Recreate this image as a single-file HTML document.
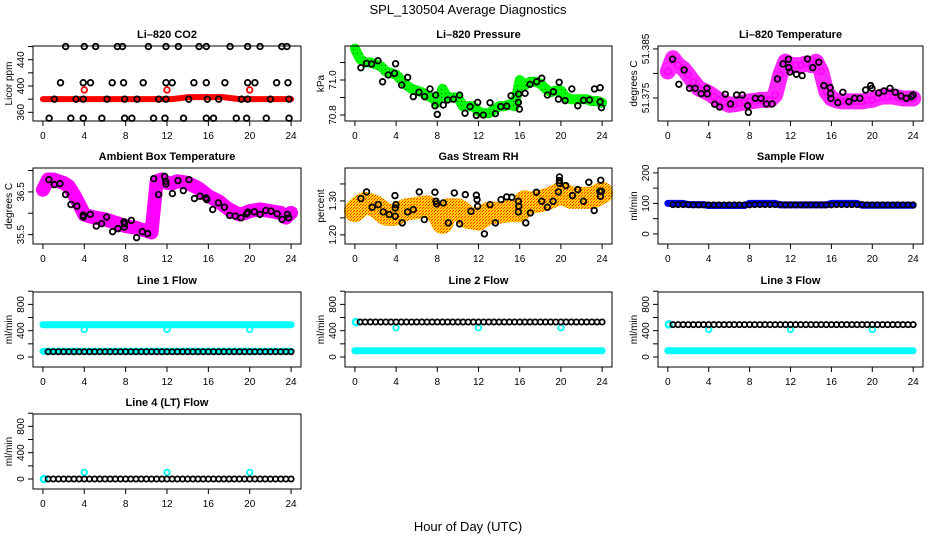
<!DOCTYPE html>
<html><head><meta charset="utf-8">
<style>
html,body{margin:0;padding:0;background:#fff;}
svg{display:block;font-family:"Liberation Sans",sans-serif;}
</style></head>
<body>
<svg id="chart" width="936" height="540" viewBox="0 0 936 540" xmlns="http://www.w3.org/2000/svg">
<defs>
<pattern id="chk" width="3" height="3" patternUnits="userSpaceOnUse"><rect width="3" height="3" fill="#ffd200"/><rect width="1" height="1" fill="#ff3000"/><rect x="2" y="1" width="1" height="1" fill="#ff3000"/><rect x="1" y="2" width="1" height="1" fill="#ffa000"/></pattern>
<pattern id="grn" width="4" height="4" patternUnits="userSpaceOnUse"><rect width="4" height="4" fill="#00ff00"/><rect x="1" y="1" width="1" height="1" fill="#006000"/></pattern>
</defs>
<text x="468" y="14" text-anchor="middle" font-size="13">SPL_130504  Average Diagnostics</text>
<text x="468" y="531" text-anchor="middle" font-size="13">Hour of Day (UTC)</text>
</svg>
<script>
// ---- data ----
const xTicks = [0,4,8,12,16,20,24];
const halfHours = []; for (let i=0;i<=48;i++) halfHours.push(i*0.5);
const blackHours = []; for (let i=1;i<=48;i++) blackHours.push(i*0.5);

const co2BlackHours = [2.2,4.0,5.1,7.2,7.7,10.2,11.9,13.1,15.1,15.8,18.1,19.8,21.0,23.1,23.6, 1.7,3.9,4.6,6.7,7.8,9.7,11.9,12.5,14.6,15.8,17.6,19.8,20.5,22.6,23.7, 1.1,3.2,3.9,6.2,7.9,9.1,11.2,11.9,14.1,15.9,17.0,19.2,19.8,22.0,23.8, 0.6,2.7,3.9,5.7,7.9,8.6,10.7,11.8,13.6,15.8,16.5,18.7,19.7,21.6,23.8];
const co2BlackValues = [460,460,460,460,460,460,460,460,460,460,460,460,460,460,460, 405,405,405,405,405,405,405,405,405,405,405,405,405,405,405, 380,380,380,380,380,380,380,380,380,380,380,380,380,380,380, 351,351,351,351,351,351,351,351,351,351,351,351,351,351,351];
const co2Red = [380,380,380,380,380,380,380,380,380,380,380,380,380,380,380,380,380,380,380,380,380,380,380,380,380,380,381,382,383,383,383,383,383,383,383,383,382,381,380,380,380,380,380,380,380,380,380,380,380];
const co2RedOutHours = [4,12,20];
const co2RedOutValues = [394,394,394];

const presGreen = [71.18,71.12,71.10,71.10,71.09,71.08,71.05,71.04,71.03,71.00,70.97,70.95,70.94,70.93,70.91,70.90,70.87,70.95,70.90,70.90,70.90,70.85,70.85,70.85,70.82,70.81,70.81,70.83,70.85,70.85,70.86,70.85,71.00,70.97,70.99,70.99,70.98,70.95,70.93,70.94,70.94,70.90,70.89,70.89,70.89,70.89,70.88,70.88,70.87];
const presBlackHours = [0.58,1.13,1.62,2.24,2.69,3.24,3.85,3.95,4.54,5.12,5.67,6.22,6.77,7.29,7.77,7.84,8.0,8.58,9.0,9.56,10.17,10.69,11.18,11.79,11.92,12.47,13.12,13.64,14.16,14.74,15.16,15.87,15.9,15.97,16.52,17.0,17.65,18.14,18.69,19.27,19.83,19.76,20.41,21.06,21.64,22.19,22.77,23.26,23.81,23.81,23.94];
const presBlackValues = [71.070,71.095,71.091,71.110,70.990,71.029,71.038,71.093,70.971,71.015,70.905,70.930,70.905,70.949,70.853,70.914,70.804,70.857,70.886,70.891,70.914,70.810,70.848,70.798,70.872,70.800,70.870,70.808,70.848,70.851,70.910,70.872,70.920,70.834,70.924,70.975,70.990,71.010,70.914,70.933,70.987,70.891,70.882,70.949,70.853,70.884,70.886,70.949,70.956,70.876,70.842];

const tempMagenta = [51.3804,51.3831,51.3817,51.3810,51.3797,51.3783,51.3770,51.3765,51.3760,51.3753,51.3746,51.3741,51.3736,51.3737,51.3739,51.3741,51.3743,51.3744,51.3746,51.3746,51.3746,51.3756,51.3797,51.3824,51.3817,51.3817,51.3817,51.3820,51.3817,51.3824,51.3804,51.3763,51.3749,51.3745,51.3743,51.3743,51.3743,51.3743,51.3743,51.3745,51.3746,51.3750,51.3753,51.3753,51.3753,51.3751,51.3749,51.3749,51.3749];
const tempBlackHours = [0.46,1.60,1.08,2.12,2.68,3.27,3.82,3.86,4.58,5.07,5.62,6.14,6.73,7.29,7.81,7.88,8.56,9.12,9.64,10.20,10.72,11.27,11.80,11.83,11.96,12.58,13.14,13.66,14.18,14.77,15.26,15.88,15.92,15.95,16.63,17.12,17.71,18.27,18.79,19.35,19.84,19.97,20.62,21.14,21.73,22.25,22.81,23.33,23.82,23.99];
const tempBlackValues = [51.38289,51.38071,51.37779,51.37697,51.37697,51.37588,51.37697,51.37582,51.37371,51.37316,51.37575,51.37378,51.37561,51.37561,51.37344,51.37207,51.37493,51.37493,51.37378,51.37378,51.37888,51.38194,51.38289,51.38119,51.38031,51.37983,51.37956,51.38296,51.38119,51.38228,51.37752,51.37711,51.37588,51.37493,51.37405,51.37616,51.37425,51.37493,51.37493,51.37663,51.37752,51.37697,51.37602,51.37643,51.37697,51.37616,51.37541,51.37493,51.37527,51.37561];

const ambMagenta = [36.55,36.79,36.79,36.75,36.71,36.63,36.44,36.21,35.97,35.93,35.90,35.88,35.86,35.82,35.78,35.74,35.70,35.68,35.66,35.62,35.59,35.55,36.75,36.79,36.71,36.70,36.75,36.73,36.71,36.65,36.59,36.50,36.40,36.34,36.28,36.18,36.09,36.03,35.97,36.00,36.05,36.07,36.09,36.07,36.05,36.03,36.01,35.90,36.01];
const ambBlackHours = [0.58,1.10,1.65,2.19,2.71,3.29,3.90,3.90,4.58,5.16,5.68,6.16,6.74,7.26,7.84,7.87,7.90,8.55,9.06,9.61,10.13,10.71,11.19,11.77,11.87,11.90,12.52,13.06,13.58,14.13,14.65,15.19,15.77,15.84,16.42,16.97,17.55,18.06,18.61,19.16,19.71,19.81,20.45,21.0,21.55,22.06,22.65,23.13,23.65,23.77];
const ambBlackValues = [36.787,36.671,36.694,36.438,36.205,36.167,35.957,35.911,35.973,35.702,35.756,35.911,35.570,35.640,35.802,35.678,35.756,35.833,35.430,35.570,35.523,36.810,36.438,36.864,36.748,36.686,36.461,36.764,36.531,36.787,36.345,36.399,36.360,36.322,36.089,36.244,36.143,35.950,35.934,35.895,35.988,36.027,36.035,35.973,36.066,36.050,35.988,35.857,35.973,35.895];

const rhOrange = [1.270,1.285,1.294,1.290,1.284,1.272,1.260,1.258,1.260,1.268,1.275,1.277,1.279,1.282,1.284,1.275,1.265,1.235,1.275,1.275,1.275,1.265,1.250,1.248,1.245,1.255,1.265,1.265,1.265,1.268,1.270,1.270,1.270,1.299,1.294,1.297,1.299,1.304,1.309,1.316,1.324,1.316,1.309,1.309,1.309,1.309,1.309,1.316,1.324];
const rhBlackHours = [0.58,1.13,1.68,2.27,2.75,3.34,3.92,3.92,3.89,3.98,4.60,5.12,5.67,6.25,6.74,7.77,7.87,7.94,8.58,9.07,9.65,10.17,10.72,11.27,11.79,11.86,11.92,12.57,13.12,13.64,14.19,14.74,15.23,15.87,15.87,15.91,16.59,17.04,17.62,18.14,18.69,19.24,19.76,19.86,19.86,19.86,20.47,21.12,21.64,22.19,22.71,23.23,23.78,23.84,23.87,23.94];
const rhBlackValues = [1.3069,1.3265,1.2814,1.2892,1.2676,1.2598,1.2549,1.2794,1.3157,1.2892,1.2353,1.2676,1.2745,1.3265,1.2451,1.3255,1.2990,1.2912,1.2941,1.2353,1.3235,1.2324,1.3186,1.2696,1.3167,1.3039,1.2843,1.2029,1.2892,1.2353,1.3039,1.3118,1.3108,1.2990,1.2676,1.2843,1.2353,1.2647,1.3255,1.2990,1.2814,1.2990,1.3265,1.3706,1.3598,1.3520,1.3451,1.3157,1.3333,1.2990,1.3549,1.2716,1.3284,1.3137,1.3608,1.3284];

const sampleBlue = [100,100,100,100,96,96,96,96,93,93,93,93,93,93,93,93,100,100,100,100,100,100,95,95,95,95,95,95,95,95,95,95,100,100,100,100,100,100,94,94,94,94,94,94,94,94,94,94,94];
const sampleBlack = [96,96,96,96,95,95,95,95,95,95,95,95,95,95,95,95,96,96,96,96,96,96,95,95,95,95,95,95,95,95,95,95,96,96,96,96,96,96,95,95,95,95,95,95,95,95,95,95];

const bandHours = [0,4,8,12,16,20,24];
const dipHours = [4,12,20];
const line1CyanHigh = [490,490,490,490,490,490,490];
const line1CyanLow = [88,88,88,88,88,88,88];
const line1Dips = [420,420,420];
const line1Black = [80,80,80,80,80,80,80,80,80,80,80,80,80,80,80,80,80,80,80,80,80,80,80,80,80,80,80,80,80,80,80,80,80,80,80,80,80,80,80,80,80,80,80,80,80,80,80,80];
const line2CyanStart = [530];
const line2CyanLow = [95,95,95,95,95,95,95];
const line2Dips = [445,445,445];
const line2Black = [532,532,532,532,532,532,532,532,532,532,532,532,532,532,532,532,532,532,532,532,532,532,532,532,532,532,532,532,532,532,532,532,532,532,532,532,532,532,532,532,532,532,532,532,532,532,532,532];
const line3CyanStart = [495];
const line3CyanLow = [95,95,95,95,95,95,95];
const line3Dips = [420,420,420];
const line3Black = [492,492,492,492,492,492,492,492,492,492,492,492,492,492,492,492,492,492,492,492,492,492,492,492,492,492,492,492,492,492,492,492,492,492,492,492,492,492,492,492,492,492,492,492,492,492,492,492];
const line4CyanStart = [0];
const line4Dips = [100,100,100];
const line4Black = [0,0,0,0,0,0,0,0,0,0,0,0,0,0,0,0,0,0,0,0,0,0,0,0,0,0,0,0,0,0,0,0,0,0,0,0,0,0,0,0,0,0,0,0,0,0,0,0];

// ---- layout ----
const COLS = [[33,301],[345,612],[658,923]];
const ROWS = [[46,121],[168,244],[292,367],[414,489]];
const XD = [-0.96,24.96];
const NS = 'http://www.w3.org/2000/svg';
const svg = document.getElementById('chart');
function mk(tag, parent){ const e=document.createElementNS(NS,tag); parent.appendChild(e); return e; }

function makePanel(p){
  const g = mk('g', svg);
  
  
  const [x0,x1]=COLS[p.col], [y0,y1]=ROWS[p.row];
  const sx = h => x0 + (h-XD[0])/(XD[1]-XD[0])*(x1-x0);
  const sy = v => y1 - (v-p.yd[0])/(p.yd[1]-p.yd[0])*(y1-y0);
  const data = mk('g', g);
  
  
  const box = mk('rect', g);
  box.setAttribute('x',x0); box.setAttribute('y',y0); box.setAttribute('width',x1-x0); box.setAttribute('height',y1-y0);
  box.setAttribute('fill','none'); box.setAttribute('stroke','#000'); box.setAttribute('stroke-width','1');
  
  
  const t = mk('text', g);
  t.textContent = p.title;
  t.setAttribute('x',(x0+x1)/2); t.setAttribute('y',y0-8); t.setAttribute('text-anchor','middle');
  t.setAttribute('font-size','11'); t.setAttribute('font-weight','bold');
  
  
  xTicks.forEach(h=>{
    const l = mk('line', g);
    l.setAttribute('x1',sx(h)); l.setAttribute('x2',sx(h)); l.setAttribute('y1',y1); l.setAttribute('y2',y1+5); l.setAttribute('stroke','#000');
    
    
    const tx = mk('text', g);
    tx.textContent = h;
    tx.setAttribute('x',sx(h)); tx.setAttribute('y',y1+18); tx.setAttribute('text-anchor','middle'); tx.setAttribute('font-size','10');
    
    
  });
  p.yticks.forEach(v=>{
    const l = mk('line', g);
    l.setAttribute('x1',x0-5); l.setAttribute('x2',x0); l.setAttribute('y1',sy(v)); l.setAttribute('y2',sy(v)); l.setAttribute('stroke','#000');
    
    
  });
  p.ylabels.forEach(s=>{
    const v = parseFloat(s);
    const tx = mk('text', g);
    tx.textContent = s;
    tx.setAttribute('transform','translate('+(x0-9)+','+sy(v)+') rotate(-90)');
    tx.setAttribute('text-anchor','middle'); tx.setAttribute('font-size','10');
    
    
  });
  const yl = mk('text', g);
  yl.textContent = p.ylab;
  yl.setAttribute('transform','translate('+(x0-21)+','+((y0+y1)/2)+') rotate(-90)');
  yl.setAttribute('text-anchor','middle'); yl.setAttribute('font-size','10');
  
  
  return {g:data,sx,sy};
}
function dots(P, hs, vs, color, r, sw){
  hs.forEach((h,i)=>{
    const c = mk('circle', P.g);
    c.setAttribute('cx',P.sx(h)); c.setAttribute('cy',P.sy(vs[i])); c.setAttribute('r',r);
    c.setAttribute('fill','none'); c.setAttribute('stroke',color); c.setAttribute('stroke-width',sw);
    
    
  });
}
function band(P, hs, vs, color, w, op){
  const pl = mk('polyline', P.g);
  pl.setAttribute('points', hs.map((h,i)=>P.sx(h)+','+P.sy(vs[i])).join(' '));
  pl.setAttribute('fill','none'); pl.setAttribute('stroke',color); pl.setAttribute('stroke-width',w);
  pl.setAttribute('stroke-linejoin','round'); pl.setAttribute('stroke-linecap','round');
  if (op) pl.setAttribute('stroke-opacity', op);
  
  
}

// ---- panels ----
let P;
P = makePanel({name:'co2-panel',col:0,row:0,title:'Li\u2013820 CO2',ylab:'Licor ppm',yd:[346.8,460.8],yticks:[360,380,400,420,440,460],ylabels:['360','400','440']});
band(P, halfHours, co2Red, '#ff0000', 6);
dots(P, co2RedOutHours, co2RedOutValues, '#ff0000', 2.8, 1.8);
dots(P, co2BlackHours, co2BlackValues, '#000', 2.8, 1.8);

P = makePanel({name:'pressure-panel',col:1,row:0,title:'Li\u2013820 Pressure',ylab:'kPa',yd:[70.766,71.194],yticks:[70.8,70.9,71.0,71.1],ylabels:['70.8','71.0']});
band(P, halfHours, presGreen, 'url(#grn)', 10);
dots(P, halfHours, presGreen, '#00ff00', 2.8, 1.5);
dots(P, presBlackHours, presBlackValues, '#000', 2.8, 1.8);

P = makePanel({name:'temperature-panel',col:2,row:0,title:'Li\u2013820 Temperature',ylab:'degrees C',yd:[51.3703,51.3856],yticks:[51.375,51.380,51.385],ylabels:['51.375','51.385']});
band(P, halfHours, tempMagenta, '#ff00ff', 16, 0.85);
dots(P, halfHours, tempMagenta, '#ff00ff', 3, 1.5);
dots(P, tempBlackHours, tempBlackValues, '#000', 2.8, 1.8);

P = makePanel({name:'ambient-box-panel',col:0,row:1,title:'Ambient Box Temperature',ylab:'degrees C',yd:[35.28,37.06],yticks:[35.5,36.0,36.5,37.0],ylabels:['35.5','36.5']});
band(P, halfHours, ambMagenta, '#ff00ff', 14);
dots(P, ambBlackHours, ambBlackValues, '#000', 2.8, 1.8);

P = makePanel({name:'gas-rh-panel',col:1,row:1,title:'Gas Stream RH',ylab:'percent',yd:[1.173,1.397],yticks:[1.20,1.25,1.30,1.35],ylabels:['1.20','1.30']});
band(P, halfHours, rhOrange, 'url(#chk)', 22);
dots(P, rhBlackHours, rhBlackValues, '#000', 2.8, 1.8);

P = makePanel({name:'sample-flow-panel',col:2,row:1,title:'Sample Flow',ylab:'ml/min',yd:[-33,216],yticks:[0,50,100,150,200],ylabels:['0','100','200']});
band(P, halfHours, sampleBlue, '#0000ff', 7);
dots(P, blackHours, sampleBlack, '#000', 2.6, 1.8);

const FY = [-152,988], FT=[0,200,400,600,800,1000], FL=['0','400','800'];
P = makePanel({name:'line1-flow-panel',col:0,row:2,title:'Line 1 Flow',ylab:'ml/min',yd:FY,yticks:FT,ylabels:FL});
band(P, bandHours, line1CyanHigh, '#00ffff', 7);
band(P, bandHours, line1CyanLow, '#00ffff', 7);
dots(P, dipHours, line1Dips, '#00ffff', 2.8, 1.8);
dots(P, blackHours, line1Black, '#000', 2.6, 1.8);

P = makePanel({name:'line2-flow-panel',col:1,row:2,title:'Line 2 Flow',ylab:'ml/min',yd:FY,yticks:FT,ylabels:FL});
band(P, bandHours, line2CyanLow, '#00ffff', 7);
dots(P, [0.1], line2CyanStart, '#00ffff', 3, 2.5);
dots(P, dipHours, line2Dips, '#00ffff', 2.8, 1.8);
dots(P, blackHours, line2Black, '#000', 2.6, 1.8);

P = makePanel({name:'line3-flow-panel',col:2,row:2,title:'Line 3 Flow',ylab:'ml/min',yd:FY,yticks:FT,ylabels:FL});
band(P, bandHours, line3CyanLow, '#00ffff', 7);
dots(P, [0.1], line3CyanStart, '#00ffff', 3, 2.5);
dots(P, dipHours, line3Dips, '#00ffff', 2.8, 1.8);
dots(P, blackHours, line3Black, '#000', 2.6, 1.8);

P = makePanel({name:'line4-flow-panel',col:0,row:3,title:'Line 4 (LT) Flow',ylab:'ml/min',yd:FY,yticks:FT,ylabels:FL});
dots(P, [0.1], line4CyanStart, '#00ffff', 3, 2.5);
dots(P, dipHours, line4Dips, '#00ffff', 2.8, 1.8);
dots(P, blackHours, line4Black, '#000', 2.6, 1.8);
</script>
</body></html>
